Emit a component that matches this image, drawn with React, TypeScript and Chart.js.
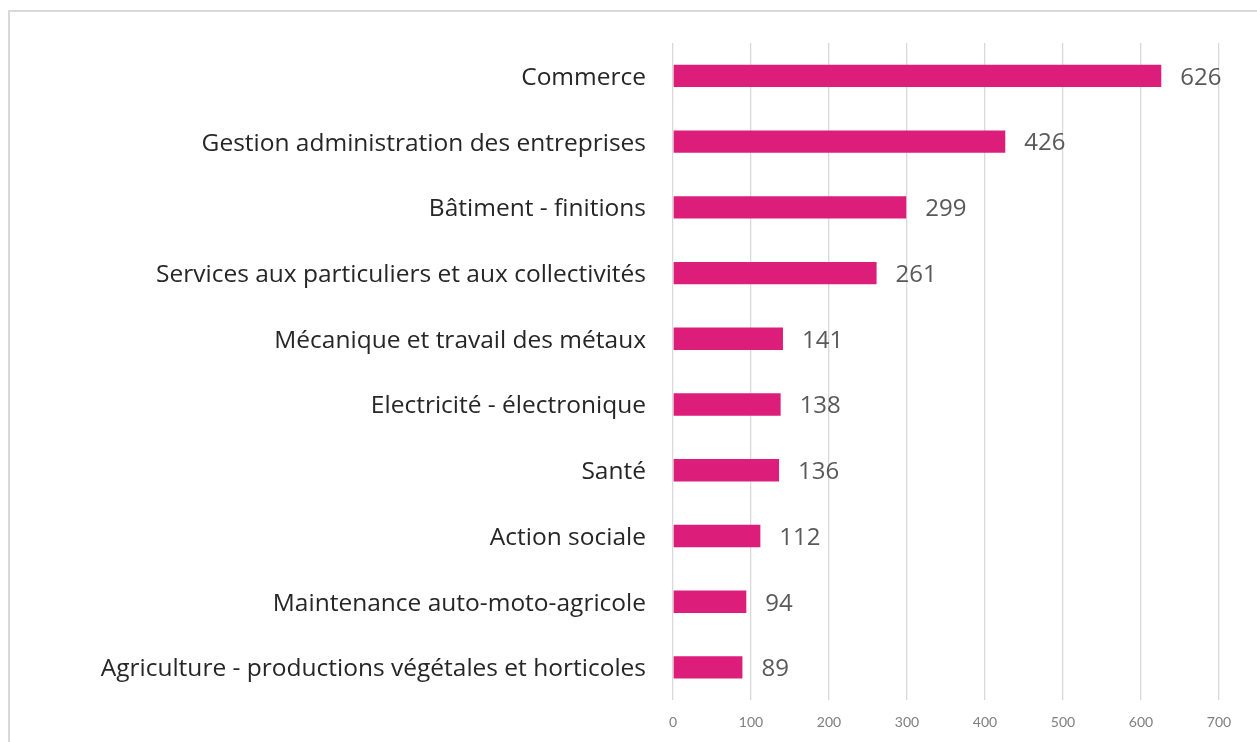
import React, { useEffect, useRef } from "react";
import { Chart, registerables } from "chart.js";

Chart.register(...registerables);

const categories = [
  "Commerce",
  "Gestion administration des entreprises",
  "Bâtiment - finitions",
  "Services aux particuliers et aux collectivités",
  "Mécanique et travail des métaux",
  "Electricité - électronique",
  "Santé",
  "Action sociale",
  "Maintenance auto-moto-agricole",
  "Agriculture - productions végétales et horticoles",
];
const values = [626, 426, 299, 261, 141, 138, 136, 112, 94, 89];
const xMin = 0;
const xMax = 700;
const xStep = 100;

const LABEL_FONT = "'Open Sans', sans-serif";
const VALUE_FONT = "'Open Sans', sans-serif";

const valueLabels = {
  id: "valueLabels",
  afterDatasetsDraw(chart: any) {
    const { ctx } = chart;
    const meta = chart.getDatasetMeta(0);
    ctx.save();
    ctx.font = `24px ${VALUE_FONT}`;
    ctx.fillStyle = "#595959";
    ctx.textAlign = "left";
    ctx.textBaseline = "middle";
    meta.data.forEach((bar: any, i: number) => {
      ctx.fillText(String(values[i]), bar.x + 19, bar.y + 2);
    });
    ctx.restore();
  },
};

export default function App() {
  const ref = useRef<HTMLCanvasElement>(null);
  useEffect(() => {
    if (!ref.current) return;
    const chart = new Chart(ref.current, {
      type: "bar",
      data: {
        labels: categories,
        datasets: [
          {
            data: values,
            backgroundColor: "#DC1E7A",
            borderWidth: 0,
            barPercentage: 0.68,
            categoryPercentage: 0.5,
          },
        ],
      },
      options: {
        indexAxis: "y",
        animation: false,
        responsive: false,
        maintainAspectRatio: false,
        layout: { padding: { top: 43, right: 38, left: 0, bottom: 0 } },
        plugins: {
          legend: { display: false },
          tooltip: { enabled: false },
        },
        scales: {
          x: {
            min: xMin,
            max: xMax,
            ticks: {
              stepSize: xStep,
              padding: 14,
              color: "#7f7f7f",
              font: { family: "Lato, sans-serif", size: 14 },
            },
            grid: { color: "#d9d9d9", lineWidth: 1.3, drawTicks: false },
            border: { display: false },
            afterFit(scale: any) {
              scale.height = 40;
            },
          },
          y: {
            ticks: {
              padding: 27,
              labelOffset: 2,
              color: "#262626",
              font: { family: LABEL_FONT, size: 24.5 },
            },
            grid: { display: false, drawTicks: false },
            border: { display: false },
            afterFit(scale: any) {
              scale.width = 673;
            },
          },
        },
      },
      plugins: [valueLabels],
    });
    return () => chart.destroy();
  }, []);

  return (
    <div style={{ position: "fixed", left: 0, top: 0, width: 1257, height: 742, background: "#fff", overflow: "hidden" }}>
      <div
        style={{
          position: "absolute",
          left: 8,
          top: 10,
          width: 1300,
          height: 800,
          borderTop: "2.5px solid #d9d9d9",
          borderLeft: "2.5px solid #d9d9d9",
        }}
      />
      <canvas ref={ref} width={1257} height={742} style={{ position: "absolute", left: 0, top: 0 }} />
    </div>
  );
}
